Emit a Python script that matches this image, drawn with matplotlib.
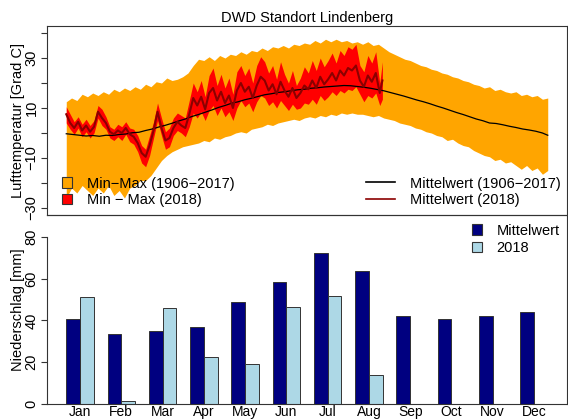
import numpy as np
import matplotlib
matplotlib.use('Agg')
import matplotlib.pyplot as plt
from matplotlib.patches import Patch
from matplotlib.lines import Line2D

plt.rcParams['font.family'] = ['Liberation Sans', 'DejaVu Sans']
plt.rcParams['font.size'] = 10.5

# Lufttemperatur 1906-2017: Min/Max-Huelle (alle 4 Tage) und mittlerer Tagesgang
env_days = np.arange(1, 366, 4)
env_max = np.array([12.5, 14.0, 13.0, 15.5, 14.5, 16.0, 15.0, 16.5, 15.5, 17.5,
                    16.5, 18.0, 17.0, 18.5, 17.5, 19.5, 18.5, 20.5, 20.0, 22.0,
                    21.0, 21.5, 22.5, 24.0, 27.0, 29.5, 29.0, 30.5, 29.0, 31.0,
                    30.0, 31.5, 31.0, 32.5, 31.5, 33.0, 32.5, 34.0, 33.0, 34.5,
                    34.0, 35.0, 34.0, 35.5, 35.0, 36.0, 35.5, 37.0, 36.0, 37.5,
                    36.5, 37.5, 36.5, 37.0, 36.0, 36.5, 35.5, 36.5, 35.0, 35.5,
                    34.0, 32.5, 31.5, 30.5, 29.5, 29.0, 28.0, 27.0, 26.5, 25.5,
                    25.0, 24.0, 23.5, 22.5, 22.0, 21.0, 20.5, 19.5, 19.0, 18.0,
                    18.5, 17.0, 17.5, 16.5, 16.0, 16.5, 15.0, 15.5, 14.5, 15.0,
                    13.5, 14.0])
env_min = np.array([-26.0, -22.0, -24.0, -21.0, -23.0, -25.0, -22.0, -24.0, -21.0, -25.0,
                    -23.0, -26.0, -22.0, -21.0, -19.0, -19.0, -17.0, -14.0, -11.0, -9.0,
                    -7.5, -6.5, -5.5, -5.0, -4.5, -4.0, -3.0, -3.5, -2.0, -2.5,
                    -1.5, -1.0, 0.0, 0.5, 0.0, 1.5, 2.0, 2.5, 3.5, 3.0,
                    4.0, 4.5, 5.0, 5.5, 5.0, 6.0, 6.5, 6.0, 7.0, 6.5,
                    7.5, 7.0, 8.0, 7.5, 8.0, 7.5, 7.5, 7.0, 6.5, 7.0,
                    6.0, 5.5, 5.0, 4.0, 3.5, 3.0, 2.0, 1.5, 0.5, 0.0,
                    -1.0, -1.5, -3.0, -2.5, -4.0, -5.0, -5.5, -7.0, -8.0, -9.0,
                    -9.5, -11.0, -10.5, -12.0, -11.5, -13.0, -14.5, -13.0, -15.0, -14.0,
                    -16.5, -15.0])
clim_days = np.array(list(range(1, 362, 5)) + [365])
clim_mean = np.array([-0.3, -0.6, -0.9, -1.2, -1.0, -1.3, -0.9, -1.0, -0.6, -0.4,
                      0.1, 0.3, 1.0, 1.6, 2.4, 3.1, 3.9, 4.8, 5.6, 6.6,
                      7.4, 8.3, 9.2, 10.2, 11.0, 11.9, 12.5, 13.3, 13.9, 14.6,
                      15.3, 15.7, 16.2, 16.5, 16.9, 17.3, 17.5, 17.9, 18.1, 18.4,
                      18.6, 18.8, 19.0, 18.9, 18.6, 18.3, 17.9, 17.4, 16.9, 16.2,
                      15.5, 14.8, 14.0, 13.2, 12.5, 11.7, 10.8, 10.0, 9.1, 8.2,
                      7.4, 6.5, 5.6, 4.9, 4.0, 3.8, 3.3, 2.7, 2.2, 1.6,
                      1.2, 0.7, 0.0, -0.9])

# Lufttemperatur 2018 (alle 3 Tage bis Ende August)
days18 = np.array(list(range(1, 239, 3)) + [240])
tmean18 = np.array([7.5, 4.0, 2.0, 4.5, 1.0, 3.0, 0.5, 2.5, 8.5, 6.0,
                    4.0, 0.5, -0.5, 1.0, 0.0, 2.0, -0.5, -1.5, -4.0, -8.0,
                    -9.5, -5.0, 1.0, 8.5, 2.0, -3.0, -2.0, 2.0, 4.5, 3.0,
                    2.0, 7.5, 14.0, 11.0, 14.5, 9.5, 16.0, 18.0, 13.0, 16.5,
                    12.0, 15.0, 10.0, 17.0, 20.0, 16.5, 18.5, 14.0, 19.0, 22.5,
                    21.0, 17.0, 19.5, 15.5, 20.5, 17.0, 14.5, 18.0, 14.0, 16.0,
                    19.0, 17.5, 21.0, 18.0, 22.5, 19.5, 21.5, 24.0, 21.0, 25.0,
                    23.0, 26.0, 25.0, 27.0, 21.0, 18.5, 23.0, 20.5, 24.0, 16.0,
                    21.0])
tmax18 = np.array([10.5, 7.5, 4.5, 6.5, 3.5, 5.5, 3.0, 5.0, 11.0, 9.5,
                   6.5, 2.5, 1.5, 3.5, 2.5, 4.5, 2.0, 1.5, -1.0, -5.0,
                   -6.5, -1.0, 4.5, 12.0, 6.0, 0.5, 2.0, 6.0, 8.0, 7.0,
                   6.0, 13.0, 20.0, 16.5, 21.0, 14.5, 23.0, 26.0, 19.0, 23.5,
                   18.0, 22.0, 15.5, 24.5, 27.0, 23.0, 26.0, 20.0, 27.0, 30.5,
                   28.5, 24.0, 27.0, 21.5, 28.5, 23.5, 20.0, 25.0, 19.0, 22.0,
                   26.5, 24.0, 29.0, 25.0, 30.0, 26.5, 29.0, 32.0, 28.0, 33.0,
                   31.0, 34.5, 33.5, 35.5, 27.0, 24.5, 31.0, 28.0, 32.5, 20.0,
                   28.5])
tmin18 = np.array([4.0, 1.5, -0.5, 2.0, -1.5, 0.5, -2.0, 0.0, 6.0, 3.0,
                   1.5, -2.0, -3.0, -1.5, -3.0, -0.5, -3.5, -4.5, -7.5, -12.0,
                   -13.5, -9.0, -2.0, 5.0, -1.0, -6.5, -5.5, -1.0, 1.0, 0.0,
                   -1.5, 2.5, 8.0, 6.0, 8.5, 5.0, 9.0, 11.0, 7.0, 10.0,
                   6.5, 8.5, 5.0, 10.0, 13.0, 10.5, 12.0, 8.5, 12.5, 15.0,
                   14.0, 11.0, 12.5, 10.0, 13.0, 11.0, 9.0, 11.5, 9.5, 10.0,
                   12.0, 11.5, 13.5, 11.5, 15.0, 13.0, 14.5, 16.5, 15.0, 17.0,
                   16.0, 17.5, 17.0, 18.5, 15.5, 12.5, 15.0, 14.0, 16.0, 11.0,
                   13.5])

# Niederschlag je Monat
months = ['Jan', 'Feb', 'Mar', 'Apr', 'May', 'Jun',
          'Jul', 'Aug', 'Sep', 'Oct', 'Nov', 'Dec']
rain_mean = [40.5, 33.6, 34.9, 36.7, 48.7, 58.2, 72.2, 63.8, 41.9, 40.5, 41.9, 44.0]
rain_2018 = [51.1, 1.6, 46.2, 22.5, 19.0, 46.5, 51.6, 13.8]

frame = '#333333'

fig = plt.figure(figsize=(5.68, 4.19), dpi=100)
ax1 = fig.add_axes([47/568, 1 - 215/419, 520/568, 189/419])
ax2 = fig.add_axes([47/568, 1 - 404/419, 520/568, 189/419])

# --- oben: Temperatur ---
ax1.fill_between(env_days, env_min, env_max, color='orange', lw=0)
ax1.fill_between(days18, tmin18, tmax18, color='red', lw=0)
ax1.plot(clim_days, clim_mean, color='black', lw=0.9)
ax1.plot(days18, tmean18, color='#8B0000', lw=1.5)
ax1.set_xlim(-13.56, 379.56)
ax1.set_ylim(-32.8, 42.8)
ax1.set_xticks([])
yt = list(range(-30, 41, 10))
ax1.set_yticks(yt)
ax1.set_yticklabels([str(v).replace('-', '\u2212') if v in (-30, -10, 10, 30) else '' for v in yt],
                    rotation=90, va='center')
ax1.tick_params(axis='y', length=4, pad=2, color=frame)
for s in ax1.spines.values():
    s.set_color(frame)
    s.set_linewidth(0.8)
ax1.set_title('DWD Standort Lindenberg', fontsize=10.5, pad=3)
ax1.set_ylabel('Lufttemperatur [Grad C]')
ax1.yaxis.set_label_coords(-0.042, 0.5)

leg1 = ax1.legend([Patch(facecolor='orange', edgecolor=frame, lw=0.8),
                   Patch(facecolor='red', edgecolor=frame, lw=0.8)],
                  ['Min\u2212Max (1906\u22122017)', 'Min \u2212 Max (2018)'],
                  loc='lower left', bbox_to_anchor=(0.029, 0.04), frameon=False,
                  handlelength=0.7, handleheight=0.7, handletextpad=1.0,
                  labelspacing=0.2, borderpad=0, borderaxespad=0)
ax1.add_artist(leg1)
ax1.legend([Line2D([], [], color='black', lw=1.2),
            Line2D([], [], color='#8B0000', lw=1.2)],
           ['Mittelwert (1906\u22122017)', 'Mittelwert (2018)'],
           loc='lower left', bbox_to_anchor=(0.613, 0.04), frameon=False,
           handlelength=2.0, handletextpad=1.0,
           labelspacing=0.2, borderpad=0, borderaxespad=0)

# --- unten: Niederschlag ---
grp = np.arange(12)
ax2.bar(1.5 + 3 * grp, rain_mean, width=1, color='#000080', edgecolor=frame, lw=0.7)
ax2.bar(2.5 + 3 * grp[:len(rain_2018)], rain_2018, width=1, color='#ADD8E6',
        edgecolor=frame, lw=0.7)
ax2.set_xlim(-0.4, 37.4)
ax2.set_ylim(0, 90.5)
ax2.set_xticks(2 + 3 * grp)
ax2.set_xticklabels(months, fontsize=10)
ax2.tick_params(axis='x', length=0, pad=1)
ax2.set_yticks([0, 20, 40, 60, 80])
ax2.set_yticklabels(['0', '20', '40', '60', '80'], rotation=90, va='center')
ax2.tick_params(axis='y', length=4, pad=2, color=frame)
ax2.patch.set_visible(False)
ax2.spines['left'].set_bounds(0, 80)
for s in ax2.spines.values():
    s.set_color(frame)
    s.set_linewidth(0.8)
ax2.set_ylabel('Niederschlag [mm]')
ax2.yaxis.set_label_coords(-0.042, 0.5)
ax2.legend([Patch(facecolor='#000080', edgecolor=frame, lw=0.8),
            Patch(facecolor='#ADD8E6', edgecolor=frame, lw=0.8)],
           ['Mittelwert', '2018'],
           loc='upper left', bbox_to_anchor=(0.817, 0.955), frameon=False,
           handlelength=0.7, handleheight=0.7, handletextpad=1.0,
           labelspacing=0.25, borderpad=0, borderaxespad=0)

fig.savefig('out.png', dpi=100)
